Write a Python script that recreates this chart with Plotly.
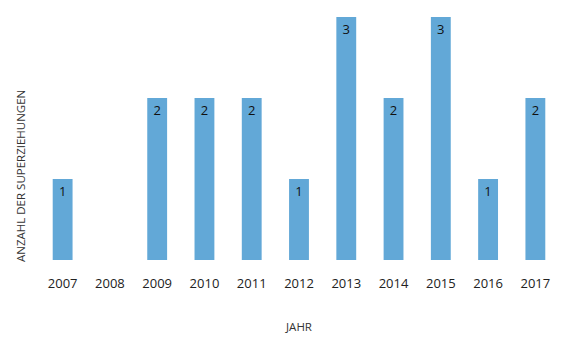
import plotly.graph_objects as go

years = ["2007", "2008", "2009", "2010", "2011", "2012", "2013", "2014", "2015", "2016", "2017"]
counts = [1, 0, 2, 2, 2, 1, 3, 2, 3, 1, 2]
labels = [str(c) if c > 0 else "" for c in counts]

fig = go.Figure(
    go.Bar(
        x=years,
        y=counts,
        text=labels,
        textposition="inside",
        insidetextanchor="end",
        textfont=dict(family="Open Sans", size=13, color="#111111"),
        marker=dict(color="#62a8d7", line=dict(width=0)),
        hoverinfo="x+y",
    )
)

fig.update_layout(
    width=570,
    height=350,
    margin=dict(l=39, r=11, t=17, b=90),
    paper_bgcolor="white",
    plot_bgcolor="white",
    bargap=0.58,
    showlegend=False,
    font=dict(family="Open Sans", color="#222222"),
    xaxis=dict(
        type="category",
        showgrid=False,
        zeroline=False,
        showline=False,
        ticks="outside",
        ticklen=11,
        tickcolor="rgba(0,0,0,0)",
        tickfont=dict(size=13, color="#222222"),
        title=dict(text="JAHR", font=dict(size=11.5, color="#333333"), standoff=32),
    ),
    yaxis=dict(
        range=[0, 3],
        showgrid=False,
        zeroline=False,
        showline=False,
        showticklabels=False,
        ticks="",
    ),
    annotations=[
        dict(
            text="ANZAHL DER SUPERZIEHUNGEN",
            textangle=-90,
            xref="paper",
            yref="paper",
            x=(20 - 39) / 520,
            y=(260 - 176) / 243,
            xanchor="center",
            yanchor="middle",
            showarrow=False,
            font=dict(family="Open Sans", size=11.5, color="#333333"),
        )
    ],
)

fig.write_html("out.html")
